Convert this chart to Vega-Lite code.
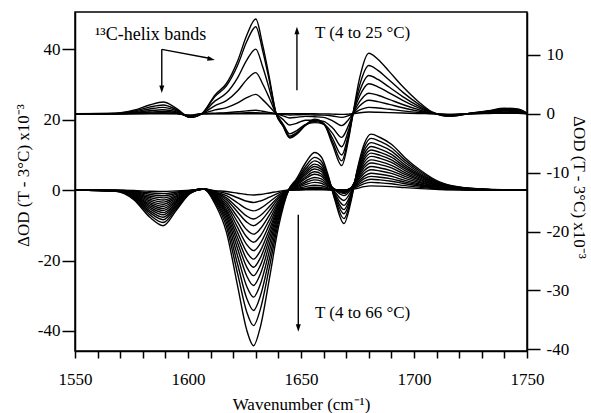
{
"$schema":"https://vega.github.io/schema/vega-lite/v6.json",
"width":452,"height":339,
"autosize":{"type":"none"},
"padding":{"left":75,"top":12,"right":64,"bottom":62},
"background":"white",
"config":{"view":{"stroke":"black","strokeWidth":1.5},"font":"Liberation Serif",
"axis":{"grid":false,"domainColor":"black","domainWidth":1.5,"tickColor":"black","tickWidth":1.5,"labelColor":"black","titleColor":"black","labelFont":"Liberation Serif","titleFont":"Liberation Serif","labelFontSize":17,"titleFontSize":17,"titleFontWeight":"normal","labelOverlap":false,"labelFlush":false}},
"datasets":{
"bottom":[
{"c":1,"x":1550,"y":0},{"c":1,"x":1568,"y":-0.01},{"c":1,"x":1576,"y":-0.11},{"c":1,"x":1583,"y":-0.3},{"c":1,"x":1589,"y":-0.4},{"c":1,"x":1595,"y":-0.22},{"c":1,"x":1601,"y":-0.04},{"c":1,"x":1607,"y":0.3},{"c":1,"x":1612,"y":-0.13},{"c":1,"x":1617,"y":-0.38},{"c":1,"x":1622,"y":-0.87},{"c":1,"x":1626,"y":-1.26},{"c":1,"x":1629,"y":-1.4},{"c":1,"x":1632,"y":-1.23},{"c":1,"x":1636,"y":-0.8},{"c":1,"x":1640,"y":-0.34},{"c":1,"x":1644.5,"y":0},{"c":1,"x":1648,"y":0.03},{"c":1,"x":1652,"y":0.07},{"c":1,"x":1656,"y":0.1},{"c":1,"x":1659,"y":0.09},{"c":1,"x":1662,"y":0.05},{"c":1,"x":1665,"y":0.01},{"c":1,"x":1669,"y":0},{"c":1,"x":1672,"y":0.14},{"c":1,"x":1675,"y":0.54},{"c":1,"x":1678,"y":1.0},{"c":1,"x":1681,"y":1.2},{"c":1,"x":1685,"y":1.13},{"c":1,"x":1690,"y":0.98},{"c":1,"x":1696,"y":0.7},{"c":1,"x":1703,"y":0.42},{"c":1,"x":1711,"y":0.18},{"c":1,"x":1720,"y":0.07},{"c":1,"x":1732,"y":0.02},{"c":1,"x":1750,"y":0},
{"c":2,"x":1550,"y":0},{"c":2,"x":1568,"y":-0.03},{"c":2,"x":1576,"y":-0.27},{"c":2,"x":1583,"y":-0.76},{"c":2,"x":1589,"y":-1.0},{"c":2,"x":1595,"y":-0.55},{"c":2,"x":1601,"y":-0.09},{"c":2,"x":1607,"y":0.3},{"c":2,"x":1612,"y":-0.32},{"c":2,"x":1617,"y":-0.95},{"c":2,"x":1622,"y":-2.17},{"c":2,"x":1626,"y":-3.15},{"c":2,"x":1629,"y":-3.5},{"c":2,"x":1632,"y":-3.08},{"c":2,"x":1636,"y":-2.0},{"c":2,"x":1640,"y":-0.84},{"c":2,"x":1644.5,"y":0},{"c":2,"x":1648,"y":0.09},{"c":2,"x":1652,"y":0.22},{"c":2,"x":1656,"y":0.3},{"c":2,"x":1659,"y":0.26},{"c":2,"x":1662,"y":0.14},{"c":2,"x":1665,"y":0.04},{"c":2,"x":1669,"y":0},{"c":2,"x":1672,"y":0.26},{"c":2,"x":1675,"y":0.99},{"c":2,"x":1678,"y":1.83},{"c":2,"x":1681,"y":2.2},{"c":2,"x":1685,"y":2.07},{"c":2,"x":1690,"y":1.8},{"c":2,"x":1696,"y":1.28},{"c":2,"x":1703,"y":0.77},{"c":2,"x":1711,"y":0.33},{"c":2,"x":1720,"y":0.12},{"c":2,"x":1732,"y":0.03},{"c":2,"x":1750,"y":0},
{"c":3,"x":1550,"y":0},{"c":3,"x":1568,"y":-0.05},{"c":3,"x":1576,"y":-0.43},{"c":3,"x":1583,"y":-1.21},{"c":3,"x":1589,"y":-1.6},{"c":3,"x":1595,"y":-0.88},{"c":3,"x":1601,"y":-0.15},{"c":3,"x":1607,"y":0.3},{"c":3,"x":1612,"y":-0.53},{"c":3,"x":1617,"y":-1.59},{"c":3,"x":1622,"y":-3.66},{"c":3,"x":1626,"y":-5.31},{"c":3,"x":1629,"y":-5.9},{"c":3,"x":1632,"y":-5.19},{"c":3,"x":1636,"y":-3.36},{"c":3,"x":1640,"y":-1.42},{"c":3,"x":1644.5,"y":0},{"c":3,"x":1648,"y":0.15},{"c":3,"x":1652,"y":0.36},{"c":3,"x":1656,"y":0.5},{"c":3,"x":1659,"y":0.44},{"c":3,"x":1662,"y":0.23},{"c":3,"x":1665,"y":0.07},{"c":3,"x":1669,"y":0.01},{"c":3,"x":1672,"y":0.37},{"c":3,"x":1675,"y":1.4},{"c":3,"x":1678,"y":2.57},{"c":3,"x":1681,"y":3.1},{"c":3,"x":1685,"y":2.91},{"c":3,"x":1690,"y":2.54},{"c":3,"x":1696,"y":1.8},{"c":3,"x":1703,"y":1.09},{"c":3,"x":1711,"y":0.47},{"c":3,"x":1720,"y":0.17},{"c":3,"x":1732,"y":0.05},{"c":3,"x":1750,"y":0},
{"c":4,"x":1550,"y":0},{"c":4,"x":1568,"y":-0.07},{"c":4,"x":1576,"y":-0.59},{"c":4,"x":1583,"y":-1.66},{"c":4,"x":1589,"y":-2.2},{"c":4,"x":1595,"y":-1.21},{"c":4,"x":1601,"y":-0.2},{"c":4,"x":1607,"y":0.3},{"c":4,"x":1612,"y":-0.74},{"c":4,"x":1617,"y":-2.21},{"c":4,"x":1622,"y":-5.08},{"c":4,"x":1626,"y":-7.38},{"c":4,"x":1629,"y":-8.2},{"c":4,"x":1632,"y":-7.22},{"c":4,"x":1636,"y":-4.67},{"c":4,"x":1640,"y":-1.97},{"c":4,"x":1644.5,"y":0},{"c":4,"x":1648,"y":0.24},{"c":4,"x":1652,"y":0.58},{"c":4,"x":1656,"y":0.8},{"c":4,"x":1659,"y":0.7},{"c":4,"x":1662,"y":0.36},{"c":4,"x":1665,"y":0.11},{"c":4,"x":1669,"y":0.01},{"c":4,"x":1672,"y":0.47},{"c":4,"x":1675,"y":1.76},{"c":4,"x":1678,"y":3.24},{"c":4,"x":1681,"y":3.9},{"c":4,"x":1685,"y":3.67},{"c":4,"x":1690,"y":3.2},{"c":4,"x":1696,"y":2.26},{"c":4,"x":1703,"y":1.37},{"c":4,"x":1711,"y":0.59},{"c":4,"x":1720,"y":0.21},{"c":4,"x":1732,"y":0.06},{"c":4,"x":1750,"y":0},
{"c":5,"x":1550,"y":0},{"c":5,"x":1568,"y":-0.09},{"c":5,"x":1576,"y":-0.75},{"c":5,"x":1583,"y":-2.11},{"c":5,"x":1589,"y":-2.8},{"c":5,"x":1595,"y":-1.54},{"c":5,"x":1601,"y":-0.26},{"c":5,"x":1607,"y":0.3},{"c":5,"x":1612,"y":-0.91},{"c":5,"x":1617,"y":-2.73},{"c":5,"x":1622,"y":-6.26},{"c":5,"x":1626,"y":-9.09},{"c":5,"x":1629,"y":-10.1},{"c":5,"x":1632,"y":-8.89},{"c":5,"x":1636,"y":-5.76},{"c":5,"x":1640,"y":-2.42},{"c":5,"x":1644.5,"y":0},{"c":5,"x":1648,"y":0.42},{"c":5,"x":1652,"y":1.01},{"c":5,"x":1656,"y":1.4},{"c":5,"x":1659,"y":1.23},{"c":5,"x":1662,"y":0.62},{"c":5,"x":1665,"y":0.15},{"c":5,"x":1669,"y":-0.09},{"c":5,"x":1672,"y":0.52},{"c":5,"x":1675,"y":2.15},{"c":5,"x":1678,"y":3.98},{"c":5,"x":1681,"y":4.8},{"c":5,"x":1685,"y":4.51},{"c":5,"x":1690,"y":3.94},{"c":5,"x":1696,"y":2.78},{"c":5,"x":1703,"y":1.68},{"c":5,"x":1711,"y":0.72},{"c":5,"x":1720,"y":0.26},{"c":5,"x":1732,"y":0.07},{"c":5,"x":1750,"y":0},
{"c":6,"x":1550,"y":0},{"c":6,"x":1568,"y":-0.11},{"c":6,"x":1576,"y":-0.91},{"c":6,"x":1583,"y":-2.57},{"c":6,"x":1589,"y":-3.4},{"c":6,"x":1595,"y":-1.87},{"c":6,"x":1601,"y":-0.32},{"c":6,"x":1607,"y":0.3},{"c":6,"x":1612,"y":-1.13},{"c":6,"x":1617,"y":-3.38},{"c":6,"x":1622,"y":-7.75},{"c":6,"x":1626,"y":-11.25},{"c":6,"x":1629,"y":-12.5},{"c":6,"x":1632,"y":-11.0},{"c":6,"x":1636,"y":-7.13},{"c":6,"x":1640,"y":-3.0},{"c":6,"x":1644.5,"y":0},{"c":6,"x":1648,"y":0.66},{"c":6,"x":1652,"y":1.58},{"c":6,"x":1656,"y":2.2},{"c":6,"x":1659,"y":1.94},{"c":6,"x":1662,"y":0.98},{"c":6,"x":1665,"y":0.22},{"c":6,"x":1669,"y":-0.18},{"c":6,"x":1672,"y":0.59},{"c":6,"x":1675,"y":2.59},{"c":6,"x":1678,"y":4.81},{"c":6,"x":1681,"y":5.8},{"c":6,"x":1685,"y":5.45},{"c":6,"x":1690,"y":4.76},{"c":6,"x":1696,"y":3.36},{"c":6,"x":1703,"y":2.03},{"c":6,"x":1711,"y":0.87},{"c":6,"x":1720,"y":0.32},{"c":6,"x":1732,"y":0.09},{"c":6,"x":1750,"y":0},
{"c":7,"x":1550,"y":0},{"c":7,"x":1568,"y":-0.13},{"c":7,"x":1576,"y":-1.07},{"c":7,"x":1583,"y":-3.02},{"c":7,"x":1589,"y":-4.0},{"c":7,"x":1595,"y":-2.2},{"c":7,"x":1601,"y":-0.37},{"c":7,"x":1607,"y":0.3},{"c":7,"x":1612,"y":-1.33},{"c":7,"x":1617,"y":-4.0},{"c":7,"x":1622,"y":-9.18},{"c":7,"x":1626,"y":-13.32},{"c":7,"x":1629,"y":-14.8},{"c":7,"x":1632,"y":-13.02},{"c":7,"x":1636,"y":-8.44},{"c":7,"x":1640,"y":-3.55},{"c":7,"x":1644.5,"y":0},{"c":7,"x":1648,"y":0.87},{"c":7,"x":1652,"y":2.09},{"c":7,"x":1656,"y":2.9},{"c":7,"x":1659,"y":2.55},{"c":7,"x":1662,"y":1.28},{"c":7,"x":1665,"y":0.23},{"c":7,"x":1669,"y":-0.37},{"c":7,"x":1672,"y":0.57},{"c":7,"x":1675,"y":2.98},{"c":7,"x":1678,"y":5.56},{"c":7,"x":1681,"y":6.7},{"c":7,"x":1685,"y":6.3},{"c":7,"x":1690,"y":5.49},{"c":7,"x":1696,"y":3.89},{"c":7,"x":1703,"y":2.35},{"c":7,"x":1711,"y":1.0},{"c":7,"x":1720,"y":0.37},{"c":7,"x":1732,"y":0.1},{"c":7,"x":1750,"y":0},
{"c":8,"x":1550,"y":0},{"c":8,"x":1568,"y":-0.15},{"c":8,"x":1576,"y":-1.23},{"c":8,"x":1583,"y":-3.47},{"c":8,"x":1589,"y":-4.6},{"c":8,"x":1595,"y":-2.53},{"c":8,"x":1601,"y":-0.43},{"c":8,"x":1607,"y":0.3},{"c":8,"x":1612,"y":-1.55},{"c":8,"x":1617,"y":-4.64},{"c":8,"x":1622,"y":-10.66},{"c":8,"x":1626,"y":-15.48},{"c":8,"x":1629,"y":-17.2},{"c":8,"x":1632,"y":-15.14},{"c":8,"x":1636,"y":-9.8},{"c":8,"x":1640,"y":-4.13},{"c":8,"x":1644.5,"y":0},{"c":8,"x":1648,"y":1.08},{"c":8,"x":1652,"y":2.59},{"c":8,"x":1656,"y":3.6},{"c":8,"x":1659,"y":3.17},{"c":8,"x":1662,"y":1.58},{"c":8,"x":1665,"y":0.19},{"c":8,"x":1669,"y":-0.66},{"c":8,"x":1672,"y":0.52},{"c":8,"x":1675,"y":3.4},{"c":8,"x":1678,"y":6.39},{"c":8,"x":1681,"y":7.7},{"c":8,"x":1685,"y":7.24},{"c":8,"x":1690,"y":6.31},{"c":8,"x":1696,"y":4.47},{"c":8,"x":1703,"y":2.7},{"c":8,"x":1711,"y":1.16},{"c":8,"x":1720,"y":0.42},{"c":8,"x":1732,"y":0.12},{"c":8,"x":1750,"y":0},
{"c":9,"x":1550,"y":0},{"c":9,"x":1568,"y":-0.17},{"c":9,"x":1576,"y":-1.39},{"c":9,"x":1583,"y":-3.93},{"c":9,"x":1589,"y":-5.2},{"c":9,"x":1595,"y":-2.87},{"c":9,"x":1601,"y":-0.48},{"c":9,"x":1607,"y":0.3},{"c":9,"x":1612,"y":-1.76},{"c":9,"x":1617,"y":-5.29},{"c":9,"x":1622,"y":-12.15},{"c":9,"x":1626,"y":-17.64},{"c":9,"x":1629,"y":-19.6},{"c":9,"x":1632,"y":-17.25},{"c":9,"x":1636,"y":-11.17},{"c":9,"x":1640,"y":-4.7},{"c":9,"x":1644.5,"y":0},{"c":9,"x":1648,"y":1.35},{"c":9,"x":1652,"y":3.24},{"c":9,"x":1656,"y":4.5},{"c":9,"x":1659,"y":3.96},{"c":9,"x":1662,"y":1.97},{"c":9,"x":1665,"y":0.18},{"c":9,"x":1669,"y":-0.95},{"c":9,"x":1672,"y":0.46},{"c":9,"x":1675,"y":3.77},{"c":9,"x":1678,"y":7.14},{"c":9,"x":1681,"y":8.6},{"c":9,"x":1685,"y":8.08},{"c":9,"x":1690,"y":7.05},{"c":9,"x":1696,"y":4.99},{"c":9,"x":1703,"y":3.01},{"c":9,"x":1711,"y":1.29},{"c":9,"x":1720,"y":0.47},{"c":9,"x":1732,"y":0.13},{"c":9,"x":1750,"y":0},
{"c":10,"x":1550,"y":0},{"c":10,"x":1568,"y":-0.19},{"c":10,"x":1576,"y":-1.55},{"c":10,"x":1583,"y":-4.38},{"c":10,"x":1589,"y":-5.8},{"c":10,"x":1595,"y":-3.2},{"c":10,"x":1601,"y":-0.54},{"c":10,"x":1607,"y":0.3},{"c":10,"x":1612,"y":-1.97},{"c":10,"x":1617,"y":-5.91},{"c":10,"x":1622,"y":-13.58},{"c":10,"x":1626,"y":-19.71},{"c":10,"x":1629,"y":-21.9},{"c":10,"x":1632,"y":-19.27},{"c":10,"x":1636,"y":-12.48},{"c":10,"x":1640,"y":-5.26},{"c":10,"x":1644.5,"y":0},{"c":10,"x":1648,"y":1.56},{"c":10,"x":1652,"y":3.74},{"c":10,"x":1656,"y":5.2},{"c":10,"x":1659,"y":4.58},{"c":10,"x":1662,"y":2.24},{"c":10,"x":1665,"y":0.01},{"c":10,"x":1669,"y":-1.55},{"c":10,"x":1672,"y":0.24},{"c":10,"x":1675,"y":4.16},{"c":10,"x":1678,"y":7.97},{"c":10,"x":1681,"y":9.6},{"c":10,"x":1685,"y":9.02},{"c":10,"x":1690,"y":7.87},{"c":10,"x":1696,"y":5.57},{"c":10,"x":1703,"y":3.36},{"c":10,"x":1711,"y":1.44},{"c":10,"x":1720,"y":0.53},{"c":10,"x":1732,"y":0.14},{"c":10,"x":1750,"y":0},
{"c":11,"x":1550,"y":0},{"c":11,"x":1568,"y":-0.2},{"c":11,"x":1576,"y":-1.71},{"c":11,"x":1583,"y":-4.83},{"c":11,"x":1589,"y":-6.4},{"c":11,"x":1595,"y":-3.53},{"c":11,"x":1601,"y":-0.6},{"c":11,"x":1607,"y":0.3},{"c":11,"x":1612,"y":-2.19},{"c":11,"x":1617,"y":-6.56},{"c":11,"x":1622,"y":-15.07},{"c":11,"x":1626,"y":-21.87},{"c":11,"x":1629,"y":-24.3},{"c":11,"x":1632,"y":-21.38},{"c":11,"x":1636,"y":-13.85},{"c":11,"x":1640,"y":-5.83},{"c":11,"x":1644.5,"y":0},{"c":11,"x":1648,"y":1.8},{"c":11,"x":1652,"y":4.32},{"c":11,"x":1656,"y":6.0},{"c":11,"x":1659,"y":5.28},{"c":11,"x":1662,"y":2.52},{"c":11,"x":1665,"y":-0.51},{"c":11,"x":1669,"y":-2.94},{"c":11,"x":1672,"y":-0.45},{"c":11,"x":1675,"y":4.43},{"c":11,"x":1678,"y":8.72},{"c":11,"x":1681,"y":10.5},{"c":11,"x":1685,"y":9.87},{"c":11,"x":1690,"y":8.61},{"c":11,"x":1696,"y":6.09},{"c":11,"x":1703,"y":3.68},{"c":11,"x":1711,"y":1.58},{"c":11,"x":1720,"y":0.58},{"c":11,"x":1732,"y":0.16},{"c":11,"x":1750,"y":0},
{"c":12,"x":1550,"y":0},{"c":12,"x":1568,"y":-0.22},{"c":12,"x":1576,"y":-1.87},{"c":12,"x":1583,"y":-5.29},{"c":12,"x":1589,"y":-7.0},{"c":12,"x":1595,"y":-3.86},{"c":12,"x":1601,"y":-0.65},{"c":12,"x":1607,"y":0.3},{"c":12,"x":1612,"y":-2.44},{"c":12,"x":1617,"y":-7.32},{"c":12,"x":1622,"y":-16.8},{"c":12,"x":1626,"y":-24.39},{"c":12,"x":1629,"y":-27.1},{"c":12,"x":1632,"y":-23.85},{"c":12,"x":1636,"y":-15.45},{"c":12,"x":1640,"y":-6.5},{"c":12,"x":1644.5,"y":0},{"c":12,"x":1648,"y":2.01},{"c":12,"x":1652,"y":4.82},{"c":12,"x":1656,"y":6.7},{"c":12,"x":1659,"y":5.9},{"c":12,"x":1662,"y":2.75},{"c":12,"x":1665,"y":-1.04},{"c":12,"x":1669,"y":-4.33},{"c":12,"x":1672,"y":-1.14},{"c":12,"x":1675,"y":4.69},{"c":12,"x":1678,"y":9.46},{"c":12,"x":1681,"y":11.4},{"c":12,"x":1685,"y":10.72},{"c":12,"x":1690,"y":9.35},{"c":12,"x":1696,"y":6.61},{"c":12,"x":1703,"y":3.99},{"c":12,"x":1711,"y":1.71},{"c":12,"x":1720,"y":0.63},{"c":12,"x":1732,"y":0.17},{"c":12,"x":1750,"y":0},
{"c":13,"x":1550,"y":0},{"c":13,"x":1568,"y":-0.25},{"c":13,"x":1576,"y":-2.06},{"c":13,"x":1583,"y":-5.81},{"c":13,"x":1589,"y":-7.7},{"c":13,"x":1595,"y":-4.24},{"c":13,"x":1601,"y":-0.72},{"c":13,"x":1607,"y":0.3},{"c":13,"x":1612,"y":-2.74},{"c":13,"x":1617,"y":-8.21},{"c":13,"x":1622,"y":-18.85},{"c":13,"x":1626,"y":-27.36},{"c":13,"x":1629,"y":-30.4},{"c":13,"x":1632,"y":-26.75},{"c":13,"x":1636,"y":-17.33},{"c":13,"x":1640,"y":-7.3},{"c":13,"x":1644.5,"y":0},{"c":13,"x":1648,"y":2.22},{"c":13,"x":1652,"y":5.33},{"c":13,"x":1656,"y":7.4},{"c":13,"x":1659,"y":6.51},{"c":13,"x":1662,"y":2.99},{"c":13,"x":1665,"y":-1.48},{"c":13,"x":1669,"y":-5.53},{"c":13,"x":1672,"y":-1.7},{"c":13,"x":1675,"y":5.02},{"c":13,"x":1678,"y":10.29},{"c":13,"x":1681,"y":12.4},{"c":13,"x":1685,"y":11.66},{"c":13,"x":1690,"y":10.17},{"c":13,"x":1696,"y":7.19},{"c":13,"x":1703,"y":4.34},{"c":13,"x":1711,"y":1.86},{"c":13,"x":1720,"y":0.68},{"c":13,"x":1732,"y":0.19},{"c":13,"x":1750,"y":0},
{"c":14,"x":1550,"y":0},{"c":14,"x":1568,"y":-0.27},{"c":14,"x":1576,"y":-2.24},{"c":14,"x":1583,"y":-6.34},{"c":14,"x":1589,"y":-8.4},{"c":14,"x":1595,"y":-4.63},{"c":14,"x":1601,"y":-0.78},{"c":14,"x":1607,"y":0.3},{"c":14,"x":1612,"y":-3.08},{"c":14,"x":1617,"y":-9.23},{"c":14,"x":1622,"y":-21.2},{"c":14,"x":1626,"y":-30.78},{"c":14,"x":1629,"y":-34.2},{"c":14,"x":1632,"y":-30.1},{"c":14,"x":1636,"y":-19.49},{"c":14,"x":1640,"y":-8.21},{"c":14,"x":1644.5,"y":0},{"c":14,"x":1648,"y":2.49},{"c":14,"x":1652,"y":5.98},{"c":14,"x":1656,"y":8.3},{"c":14,"x":1659,"y":7.3},{"c":14,"x":1662,"y":3.33},{"c":14,"x":1665,"y":-1.9},{"c":14,"x":1669,"y":-6.72},{"c":14,"x":1672,"y":-2.26},{"c":14,"x":1675,"y":5.4},{"c":14,"x":1678,"y":11.21},{"c":14,"x":1681,"y":13.5},{"c":14,"x":1685,"y":12.69},{"c":14,"x":1690,"y":11.07},{"c":14,"x":1696,"y":7.83},{"c":14,"x":1703,"y":4.73},{"c":14,"x":1711,"y":2.03},{"c":14,"x":1720,"y":0.74},{"c":14,"x":1732,"y":0.2},{"c":14,"x":1750,"y":0},
{"c":15,"x":1550,"y":0},{"c":15,"x":1568,"y":-0.29},{"c":15,"x":1576,"y":-2.46},{"c":15,"x":1583,"y":-6.95},{"c":15,"x":1589,"y":-9.2},{"c":15,"x":1595,"y":-5.07},{"c":15,"x":1601,"y":-0.86},{"c":15,"x":1607,"y":0.3},{"c":15,"x":1612,"y":-3.47},{"c":15,"x":1617,"y":-10.4},{"c":15,"x":1622,"y":-23.87},{"c":15,"x":1626,"y":-34.65},{"c":15,"x":1629,"y":-38.5},{"c":15,"x":1632,"y":-33.88},{"c":15,"x":1636,"y":-21.95},{"c":15,"x":1640,"y":-9.24},{"c":15,"x":1644.5,"y":0},{"c":15,"x":1648,"y":2.79},{"c":15,"x":1652,"y":6.7},{"c":15,"x":1656,"y":9.3},{"c":15,"x":1659,"y":8.18},{"c":15,"x":1662,"y":3.7},{"c":15,"x":1665,"y":-2.39},{"c":15,"x":1669,"y":-8.11},{"c":15,"x":1672,"y":-2.91},{"c":15,"x":1675,"y":5.8},{"c":15,"x":1678,"y":12.2},{"c":15,"x":1681,"y":14.7},{"c":15,"x":1685,"y":13.82},{"c":15,"x":1690,"y":12.05},{"c":15,"x":1696,"y":8.53},{"c":15,"x":1703,"y":5.15},{"c":15,"x":1711,"y":2.21},{"c":15,"x":1720,"y":0.81},{"c":15,"x":1732,"y":0.22},{"c":15,"x":1750,"y":0},
{"c":16,"x":1550,"y":0},{"c":16,"x":1568,"y":-0.32},{"c":16,"x":1576,"y":-2.7},{"c":16,"x":1583,"y":-7.63},{"c":16,"x":1589,"y":-10.1},{"c":16,"x":1595,"y":-5.57},{"c":16,"x":1601,"y":-0.94},{"c":16,"x":1607,"y":0.3},{"c":16,"x":1612,"y":-3.98},{"c":16,"x":1617,"y":-11.93},{"c":16,"x":1622,"y":-27.4},{"c":16,"x":1626,"y":-39.78},{"c":16,"x":1629,"y":-44.2},{"c":16,"x":1632,"y":-38.9},{"c":16,"x":1636,"y":-25.19},{"c":16,"x":1640,"y":-10.61},{"c":16,"x":1644.5,"y":0},{"c":16,"x":1648,"y":3.21},{"c":16,"x":1652,"y":7.7},{"c":16,"x":1656,"y":10.7},{"c":16,"x":1659,"y":9.42},{"c":16,"x":1662,"y":4.24},{"c":16,"x":1665,"y":-2.82},{"c":16,"x":1669,"y":-9.49},{"c":16,"x":1672,"y":-3.56},{"c":16,"x":1675,"y":6.2},{"c":16,"x":1678,"y":13.2},{"c":16,"x":1681,"y":15.9},{"c":16,"x":1685,"y":14.95},{"c":16,"x":1690,"y":13.04},{"c":16,"x":1696,"y":9.22},{"c":16,"x":1703,"y":5.57},{"c":16,"x":1711,"y":2.39},{"c":16,"x":1720,"y":0.87},{"c":16,"x":1732,"y":0.24},{"c":16,"x":1750,"y":0}
],
"top":[
{"c":1,"x":1550,"y":0},{"c":1,"x":1568,"y":0},{"c":1,"x":1576,"y":0},{"c":1,"x":1583,"y":0},{"c":1,"x":1589,"y":0},{"c":1,"x":1595,"y":0},{"c":1,"x":1601,"y":-0.2},{"c":1,"x":1606,"y":0},{"c":1,"x":1612,"y":0},{"c":1,"x":1617,"y":0},{"c":1,"x":1622,"y":0},{"c":1,"x":1626,"y":0},{"c":1,"x":1630,"y":0},{"c":1,"x":1633,"y":0},{"c":1,"x":1636,"y":0},{"c":1,"x":1639,"y":0},{"c":1,"x":1642,"y":0},{"c":1,"x":1645,"y":0},{"c":1,"x":1648,"y":0},{"c":1,"x":1652,"y":0},{"c":1,"x":1656,"y":0},{"c":1,"x":1660,"y":-0.01},{"c":1,"x":1664,"y":-0.06},{"c":1,"x":1668,"y":-0.1},{"c":1,"x":1671,"y":-0.05},{"c":1,"x":1673,"y":0},{"c":1,"x":1676,"y":0.18},{"c":1,"x":1680,"y":0.3},{"c":1,"x":1684,"y":0.27},{"c":1,"x":1689,"y":0.21},{"c":1,"x":1695,"y":0.14},{"c":1,"x":1702,"y":0.06},{"c":1,"x":1708,"y":0.01},{"c":1,"x":1716,"y":-0.1},{"c":1,"x":1725,"y":0.01},{"c":1,"x":1733,"y":0.06},{"c":1,"x":1740,"y":0.1},{"c":1,"x":1746,"y":0.09},{"c":1,"x":1750,"y":0.01},
{"c":2,"x":1550,"y":0},{"c":2,"x":1568,"y":0.01},{"c":2,"x":1576,"y":0.03},{"c":2,"x":1583,"y":0.08},{"c":2,"x":1589,"y":0.1},{"c":2,"x":1595,"y":0.05},{"c":2,"x":1601,"y":-0.3},{"c":2,"x":1606,"y":0},{"c":2,"x":1612,"y":0.04},{"c":2,"x":1617,"y":0.06},{"c":2,"x":1622,"y":0.11},{"c":2,"x":1626,"y":0.17},{"c":2,"x":1630,"y":0.2},{"c":2,"x":1633,"y":0.15},{"c":2,"x":1636,"y":0.08},{"c":2,"x":1639,"y":0},{"c":2,"x":1642,"y":-0.1},{"c":2,"x":1645,"y":-0.2},{"c":2,"x":1648,"y":-0.17},{"c":2,"x":1652,"y":-0.14},{"c":2,"x":1656,"y":-0.2},{"c":2,"x":1660,"y":-0.22},{"c":2,"x":1664,"y":-0.36},{"c":2,"x":1668,"y":-0.6},{"c":2,"x":1671,"y":-0.3},{"c":2,"x":1673,"y":0},{"c":2,"x":1676,"y":0.66},{"c":2,"x":1680,"y":1.1},{"c":2,"x":1684,"y":0.99},{"c":2,"x":1689,"y":0.77},{"c":2,"x":1695,"y":0.5},{"c":2,"x":1702,"y":0.22},{"c":2,"x":1708,"y":0.03},{"c":2,"x":1716,"y":-0.1},{"c":2,"x":1725,"y":0.02},{"c":2,"x":1733,"y":0.11},{"c":2,"x":1740,"y":0.2},{"c":2,"x":1746,"y":0.17},{"c":2,"x":1750,"y":0.02},
{"c":3,"x":1550,"y":0},{"c":3,"x":1568,"y":0.01},{"c":3,"x":1576,"y":0.06},{"c":3,"x":1583,"y":0.15},{"c":3,"x":1589,"y":0.2},{"c":3,"x":1595,"y":0.09},{"c":3,"x":1601,"y":-0.4},{"c":3,"x":1606,"y":0},{"c":3,"x":1612,"y":0.12},{"c":3,"x":1617,"y":0.19},{"c":3,"x":1622,"y":0.34},{"c":3,"x":1626,"y":0.5},{"c":3,"x":1630,"y":0.6},{"c":3,"x":1633,"y":0.44},{"c":3,"x":1636,"y":0.23},{"c":3,"x":1639,"y":0},{"c":3,"x":1642,"y":-0.35},{"c":3,"x":1645,"y":-0.7},{"c":3,"x":1648,"y":-0.6},{"c":3,"x":1652,"y":-0.43},{"c":3,"x":1656,"y":-0.5},{"c":3,"x":1660,"y":-0.6},{"c":3,"x":1664,"y":-1.2},{"c":3,"x":1668,"y":-2.0},{"c":3,"x":1671,"y":-1.0},{"c":3,"x":1673,"y":0},{"c":3,"x":1676,"y":1.38},{"c":3,"x":1680,"y":2.3},{"c":3,"x":1684,"y":2.07},{"c":3,"x":1689,"y":1.61},{"c":3,"x":1695,"y":1.04},{"c":3,"x":1702,"y":0.46},{"c":3,"x":1708,"y":0.07},{"c":3,"x":1716,"y":-0.2},{"c":3,"x":1725,"y":0.03},{"c":3,"x":1733,"y":0.17},{"c":3,"x":1740,"y":0.3},{"c":3,"x":1746,"y":0.26},{"c":3,"x":1750,"y":0.03},
{"c":4,"x":1550,"y":0},{"c":4,"x":1568,"y":0.02},{"c":4,"x":1576,"y":0.12},{"c":4,"x":1583,"y":0.3},{"c":4,"x":1589,"y":0.4},{"c":4,"x":1595,"y":0.18},{"c":4,"x":1601,"y":-0.5},{"c":4,"x":1606,"y":0},{"c":4,"x":1612,"y":0.66},{"c":4,"x":1617,"y":1.06},{"c":4,"x":1622,"y":1.85},{"c":4,"x":1626,"y":2.74},{"c":4,"x":1630,"y":3.3},{"c":4,"x":1633,"y":2.41},{"c":4,"x":1636,"y":1.25},{"c":4,"x":1639,"y":0},{"c":4,"x":1642,"y":-0.95},{"c":4,"x":1645,"y":-1.9},{"c":4,"x":1648,"y":-1.62},{"c":4,"x":1652,"y":-1.09},{"c":4,"x":1656,"y":-1.1},{"c":4,"x":1660,"y":-1.28},{"c":4,"x":1664,"y":-2.4},{"c":4,"x":1668,"y":-4.0},{"c":4,"x":1671,"y":-2.0},{"c":4,"x":1673,"y":0},{"c":4,"x":1676,"y":2.1},{"c":4,"x":1680,"y":3.5},{"c":4,"x":1684,"y":3.15},{"c":4,"x":1689,"y":2.45},{"c":4,"x":1695,"y":1.58},{"c":4,"x":1702,"y":0.7},{"c":4,"x":1708,"y":0.11},{"c":4,"x":1716,"y":-0.2},{"c":4,"x":1725,"y":0.05},{"c":4,"x":1733,"y":0.25},{"c":4,"x":1740,"y":0.45},{"c":4,"x":1746,"y":0.38},{"c":4,"x":1750,"y":0.05},
{"c":5,"x":1550,"y":0},{"c":5,"x":1568,"y":0.04},{"c":5,"x":1576,"y":0.21},{"c":5,"x":1583,"y":0.53},{"c":5,"x":1589,"y":0.7},{"c":5,"x":1595,"y":0.32},{"c":5,"x":1601,"y":-0.5},{"c":5,"x":1606,"y":0},{"c":5,"x":1612,"y":1.4},{"c":5,"x":1617,"y":2.24},{"c":5,"x":1622,"y":3.92},{"c":5,"x":1626,"y":5.81},{"c":5,"x":1630,"y":7.0},{"c":5,"x":1633,"y":5.11},{"c":5,"x":1636,"y":2.66},{"c":5,"x":1639,"y":0},{"c":5,"x":1642,"y":-1.7},{"c":5,"x":1645,"y":-3.4},{"c":5,"x":1648,"y":-2.89},{"c":5,"x":1652,"y":-1.81},{"c":5,"x":1656,"y":-1.5},{"c":5,"x":1660,"y":-1.76},{"c":5,"x":1664,"y":-3.36},{"c":5,"x":1668,"y":-5.6},{"c":5,"x":1671,"y":-2.8},{"c":5,"x":1673,"y":0},{"c":5,"x":1676,"y":3.06},{"c":5,"x":1680,"y":5.1},{"c":5,"x":1684,"y":4.59},{"c":5,"x":1689,"y":3.57},{"c":5,"x":1695,"y":2.3},{"c":5,"x":1702,"y":1.02},{"c":5,"x":1708,"y":0.15},{"c":5,"x":1716,"y":-0.3},{"c":5,"x":1725,"y":0.06},{"c":5,"x":1733,"y":0.33},{"c":5,"x":1740,"y":0.6},{"c":5,"x":1746,"y":0.51},{"c":5,"x":1750,"y":0.06},
{"c":6,"x":1550,"y":0},{"c":6,"x":1568,"y":0.06},{"c":6,"x":1576,"y":0.33},{"c":6,"x":1583,"y":0.83},{"c":6,"x":1589,"y":1.1},{"c":6,"x":1595,"y":0.5},{"c":6,"x":1601,"y":-0.6},{"c":6,"x":1606,"y":0},{"c":6,"x":1612,"y":2.2},{"c":6,"x":1617,"y":3.52},{"c":6,"x":1622,"y":6.16},{"c":6,"x":1626,"y":9.13},{"c":6,"x":1630,"y":11.0},{"c":6,"x":1633,"y":8.03},{"c":6,"x":1636,"y":4.18},{"c":6,"x":1639,"y":0},{"c":6,"x":1642,"y":-1.9},{"c":6,"x":1645,"y":-3.8},{"c":6,"x":1648,"y":-3.23},{"c":6,"x":1652,"y":-1.91},{"c":6,"x":1656,"y":-1.3},{"c":6,"x":1660,"y":-1.74},{"c":6,"x":1664,"y":-4.2},{"c":6,"x":1668,"y":-7.0},{"c":6,"x":1671,"y":-3.5},{"c":6,"x":1673,"y":0},{"c":6,"x":1676,"y":3.9},{"c":6,"x":1680,"y":6.5},{"c":6,"x":1684,"y":5.85},{"c":6,"x":1689,"y":4.55},{"c":6,"x":1695,"y":2.93},{"c":6,"x":1702,"y":1.3},{"c":6,"x":1708,"y":0.2},{"c":6,"x":1716,"y":-0.3},{"c":6,"x":1725,"y":0.08},{"c":6,"x":1733,"y":0.41},{"c":6,"x":1740,"y":0.75},{"c":6,"x":1746,"y":0.64},{"c":6,"x":1750,"y":0.08},
{"c":7,"x":1550,"y":0},{"c":7,"x":1568,"y":0.08},{"c":7,"x":1576,"y":0.45},{"c":7,"x":1583,"y":1.13},{"c":7,"x":1589,"y":1.5},{"c":7,"x":1595,"y":0.68},{"c":7,"x":1601,"y":-0.6},{"c":7,"x":1606,"y":0},{"c":7,"x":1612,"y":2.96},{"c":7,"x":1617,"y":4.74},{"c":7,"x":1622,"y":8.29},{"c":7,"x":1626,"y":12.28},{"c":7,"x":1630,"y":14.8},{"c":7,"x":1633,"y":10.8},{"c":7,"x":1636,"y":5.62},{"c":7,"x":1639,"y":0},{"c":7,"x":1642,"y":-2.0},{"c":7,"x":1645,"y":-4.0},{"c":7,"x":1648,"y":-3.4},{"c":7,"x":1652,"y":-1.93},{"c":7,"x":1656,"y":-1.1},{"c":7,"x":1660,"y":-1.68},{"c":7,"x":1664,"y":-4.8},{"c":7,"x":1668,"y":-8.0},{"c":7,"x":1671,"y":-4.0},{"c":7,"x":1673,"y":0},{"c":7,"x":1676,"y":4.92},{"c":7,"x":1680,"y":8.2},{"c":7,"x":1684,"y":7.38},{"c":7,"x":1689,"y":5.74},{"c":7,"x":1695,"y":3.69},{"c":7,"x":1702,"y":1.64},{"c":7,"x":1708,"y":0.25},{"c":7,"x":1716,"y":-0.4},{"c":7,"x":1725,"y":0.09},{"c":7,"x":1733,"y":0.47},{"c":7,"x":1740,"y":0.85},{"c":7,"x":1746,"y":0.72},{"c":7,"x":1750,"y":0.09},
{"c":8,"x":1550,"y":0},{"c":8,"x":1568,"y":0.1},{"c":8,"x":1576,"y":0.6},{"c":8,"x":1583,"y":1.5},{"c":8,"x":1589,"y":2.0},{"c":8,"x":1595,"y":0.9},{"c":8,"x":1601,"y":-0.6},{"c":8,"x":1606,"y":0},{"c":8,"x":1612,"y":3.22},{"c":8,"x":1617,"y":5.15},{"c":8,"x":1622,"y":9.02},{"c":8,"x":1626,"y":13.36},{"c":8,"x":1630,"y":16.1},{"c":8,"x":1633,"y":11.75},{"c":8,"x":1636,"y":6.12},{"c":8,"x":1639,"y":0},{"c":8,"x":1642,"y":-2.05},{"c":8,"x":1645,"y":-4.1},{"c":8,"x":1648,"y":-3.49},{"c":8,"x":1652,"y":-1.91},{"c":8,"x":1656,"y":-0.9},{"c":8,"x":1660,"y":-1.6},{"c":8,"x":1664,"y":-5.28},{"c":8,"x":1668,"y":-8.8},{"c":8,"x":1671,"y":-4.4},{"c":8,"x":1673,"y":0},{"c":8,"x":1676,"y":6.18},{"c":8,"x":1680,"y":10.3},{"c":8,"x":1684,"y":9.27},{"c":8,"x":1689,"y":7.21},{"c":8,"x":1695,"y":4.64},{"c":8,"x":1702,"y":2.06},{"c":8,"x":1708,"y":0.31},{"c":8,"x":1716,"y":-0.4},{"c":8,"x":1725,"y":0.1},{"c":8,"x":1733,"y":0.52},{"c":8,"x":1740,"y":0.95},{"c":8,"x":1746,"y":0.81},{"c":8,"x":1750,"y":0.1}
],
"notes":[
{"x":1558.8,"y":42.7,"t":"¹³C-helix bands","s":18},
{"x":1656.2,"y":43.1,"t":"T (4 to 25 °C)","s":17},
{"x":1656.2,"y":-36.4,"t":"T (4 to 66 °C)","s":17}
],
"arrows":[
{"x":1648.2,"y":28.4,"x2":1648.2,"y2":45.0},
{"x":1648.8,"y":-7.0,"x2":1648.8,"y2":-38.8},
{"x":1588.4,"y":40.0,"x2":1588.4,"y2":29.0},
{"x":1588.4,"y":40.0,"x2":1610.0,"y2":37.4}
],
"heads":[
{"x":1648.2,"y":46.4,"a":180},
{"x":1648.8,"y":-40.2,"a":0},
{"x":1588.4,"y":27.6,"a":0},
{"x":1611.9,"y":37.0,"a":-78.7}
]
},
"encoding":{
"x":{"field":"x","type":"quantitative","scale":{"domain":[1550,1750],"nice":false,"zero":false},
"axis":{"title":"Wavenumber (cm⁻¹)","values":[1550,1560,1570,1580,1590,1600,1610,1620,1630,1640,1650,1660,1670,1680,1690,1700,1710,1720,1730,1740,1750],"labelExpr":"datum.value % 50 === 0 ? '' + datum.value : ''","labelOverlap":false,"labelFlush":false,"labelFont":"Liberation Serif","titleFont":"Liberation Serif","tickSize":7,"labelPadding":13,"titleY":58,"titleBaseline":"alphabetic"}}
},
"layer":[
{
"encoding":{
"y":{"field":"y","type":"quantitative","scale":{"domain":[-45.7,50.6],"nice":false,"zero":false},
"axis":{"orient":"left","title":"ΔOD (T - 3°C) x10⁻³","values":[-40,-20,0,20,40],"labelExpr":"'' + datum.value","labelOverlap":false,"labelFont":"Liberation Serif","titleFont":"Liberation Serif","tickSize":13,"labelPadding":2,"titleAngle":-90,"titleX":-52,"titleY":163,"titleBaseline":"middle","titleAlign":"center"}}
},
"layer":[
{"data":{"name":"bottom"},"mark":{"type":"line","color":"black","strokeWidth":1.4,"interpolate":"monotone"},
"encoding":{"detail":{"field":"c","type":"nominal"}}},
{"data":{"name":"arrows"},"mark":{"type":"rule","color":"black","strokeWidth":1.4},
"encoding":{"x2":{"field":"x2"},"y2":{"field":"y2"}}},
{"data":{"name":"heads"},"mark":{"type":"point","shape":"M0,0L-0.5,-1.5L0.5,-1.5Z","filled":true,"color":"black","opacity":1,"size":100,"strokeWidth":0},
"encoding":{"angle":{"field":"a","type":"quantitative","scale":null}}},
{"data":{"name":"notes"},"mark":{"type":"text","align":"left","baseline":"alphabetic","font":"Liberation Serif","color":"black"},
"encoding":{"text":{"field":"t"},"size":{"field":"s","type":"quantitative","scale":null}}}
]},
{"data":{"name":"top"},"mark":{"type":"line","color":"black","strokeWidth":1.4,"interpolate":"monotone"},
"encoding":{
"y":{"field":"y","type":"quantitative","scale":{"domain":[-40.3,17.3],"nice":false,"zero":false},
"axis":{"orient":"right","title":"ΔOD (T - 3°C) x10⁻³","values":[-40,-30,-20,-10,0,10],"labelExpr":"'' + datum.value","labelOverlap":false,"labelFont":"Liberation Serif","titleFont":"Liberation Serif","tickSize":13,"labelPadding":6,"titleAngle":90,"titleX":51,"titleY":175,"titleBaseline":"middle","titleAlign":"center"}},
"detail":{"field":"c","type":"nominal"}}}
],
"resolve":{"scale":{"y":"independent"},"axis":{"y":"independent"}}
}
